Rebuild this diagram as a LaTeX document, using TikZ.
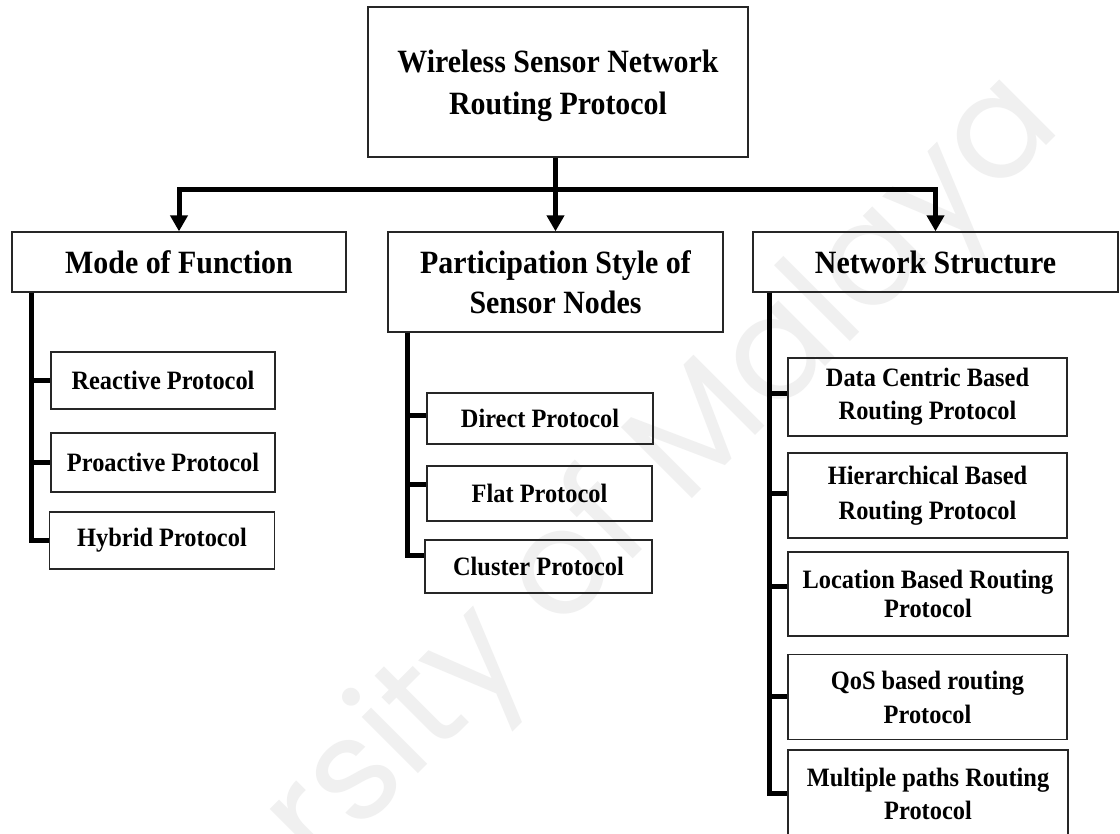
\documentclass[tikz,border=0pt]{standalone}
\usepackage{fontspec}
\usetikzlibrary{arrows.meta}
\newfontfamily\labfont[FakeStretch=0.92]{Liberation Serif}
\newfontfamily\wmfont{Poppins}
\tikzset{
  box/.style={draw=black!85, line width=1.3pt, inner sep=0pt, align=center},
  bigbox/.style={box, font=\labfont\bfseries\fontsize{32.5}{41}\selectfont},
  smallbox/.style={box, font=\labfont\bfseries\fontsize{26.5}{33}\selectfont},
  bus/.style={line width=5pt},
  tip/.style={-{Triangle[width=17pt,length=16pt]}},
}
\begin{document}
\begin{tikzpicture}[x=1pt,y=-1pt]
\useasboundingbox[fill=white] (0,0) rectangle (1120,834);

% faint watermark behind everything
\node[rotate=45, text=black!6, font=\wmfont\fontsize{145}{145}\selectfont] (wm) at (525,615) {University of Malaya};

% root
\node[box, minimum width=380pt, minimum height=150pt] (rootbox) at (558,82) {};
\node[font=\labfont\bfseries\fontsize{32.5}{42}\selectfont, align=center, inner sep=0pt] (root) at ([yshift=-4pt]rootbox.center)
  {Wireless Sensor Network\\Routing Protocol};

% second level
\node[bigbox, minimum width=334pt, minimum height=60pt] (mode) at (179,262) {Mode of Function};
\node[bigbox, minimum width=335pt, minimum height=100pt, font=\labfont\bfseries\fontsize{32.5}{40}\selectfont] (part) at (555.5,282)
  {Participation Style of\\Sensor Nodes};
\node[bigbox, minimum width=365pt, minimum height=60pt] (net) at (935.5,262) {Network Structure};

% mode of function
\node[smallbox, minimum width=224pt, minimum height=57pt] (rea) at (163,380.5) {Reactive Protocol};
\node[smallbox, minimum width=224pt, minimum height=59pt] (pro) at (163,462.5) {Proactive Protocol};
\node[smallbox, minimum width=225pt, minimum height=57pt] (hyb) at (162,540.5) {Hybrid Protocol};

% participation style
\node[smallbox, minimum width=226pt, minimum height=51pt] (dir) at (540,418.5) {Direct Protocol};
\node[smallbox, minimum width=225pt, minimum height=55pt] (flat) at (539.5,493.5) {Flat Protocol};
\node[smallbox, minimum width=227pt, minimum height=53pt] (clu) at (538.5,566.5) {Cluster Protocol};

% network structure
\node[smallbox, minimum width=279pt, minimum height=78pt] (dc) at (927.5,397) {Data Centric Based\\Routing Protocol};
\node[smallbox, minimum width=279pt, minimum height=85pt, font=\labfont\bfseries\fontsize{26.5}{35}\selectfont] (hier) at (927.5,495.5) {Hierarchical Based\\Routing Protocol};
\node[smallbox, minimum width=280pt, minimum height=84pt, font=\labfont\bfseries\fontsize{26.5}{29}\selectfont] (loc) at (928,594) {Location Based Routing\\Protocol};
\node[smallbox, minimum width=279pt, minimum height=85pt, font=\labfont\bfseries\fontsize{26.5}{34}\selectfont] (qos) at (927.5,697) {QoS based routing\\Protocol};
\node[smallbox, minimum width=280pt, minimum height=88pt] (mult) at (928,794) {Multiple paths Routing\\Protocol};

% root to second level
\coordinate (bar) at (0,190);
\draw[bus, tip] (rootbox.south -| part.north) -- (part.north);
\draw[bus, {Triangle[width=17pt,length=16pt]}-{Triangle[width=17pt,length=16pt]}]
  (mode.north) -- (mode.north |- bar) -- (net.north |- bar) -- (net.north);

% trunks with branches
\foreach \leaf in {rea,pro,hyb}
  \draw[bus] ([xshift=20pt]mode.south west) |- (\leaf.west);
\draw[bus] ([xshift=20pt]part.south west) |- ([yshift=3pt]dir.west);
\draw[bus] ([xshift=20pt]part.south west) |- ([yshift=9pt]flat.west);
\draw[bus] ([xshift=20pt]part.south west) |- ([yshift=11pt]clu.west);
\draw[bus] ([xshift=17pt]net.south west) |- ([yshift=3pt]dc.west);
\draw[bus] ([xshift=17pt]net.south west) |- ([yshift=2pt]hier.west);
\draw[bus] ([xshift=17pt]net.south west) |- ([yshift=8pt]loc.west);
\draw[bus] ([xshift=17pt]net.south west) |- ([yshift=1pt]qos.west);
\draw[bus] ([xshift=17pt]net.south west) |- ([yshift=1pt]mult.west);
\end{tikzpicture}
\end{document}
